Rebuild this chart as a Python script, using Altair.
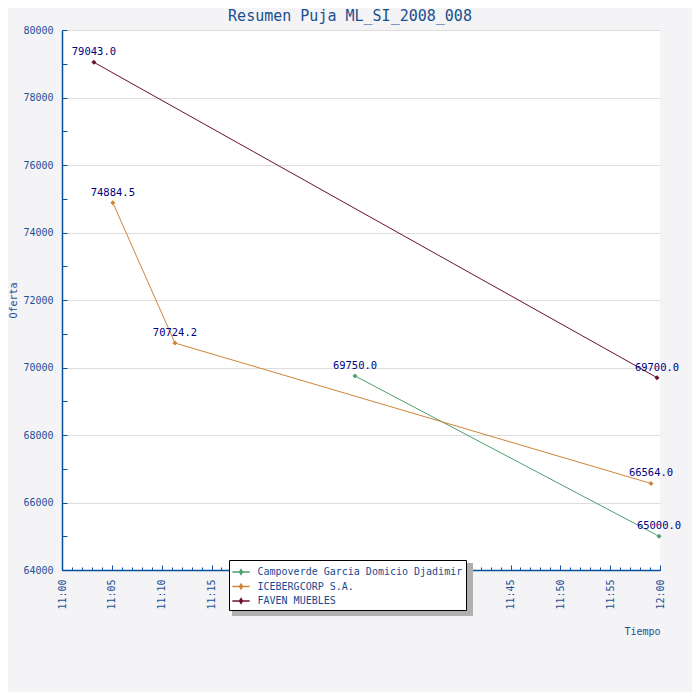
import altair as alt
import pandas as pd

# ---- data ----
series_names = ["Campoverde Garcia Domicio Djadimir", "ICEBERGCORP S.A.", "FAVEN MUEBLES"]
series_colors = ["#4c9f6e", "#d0823a", "#6b1030"]

campoverde_times = ["11:29:24", "11:59:54"]
campoverde_values = [69750.0, 65000.0]
iceberg_times = ["11:05:06", "11:11:20", "11:59:06"]
iceberg_values = [74884.5, 70724.2, 66564.0]
faven_times = ["11:03:12", "11:59:42"]
faven_values = [79043.0, 69700.0]

x_label_values = [0, 5, 10, 15, 20, 25, 30, 35, 40, 45, 50, 55, 60]
x_minor_ticks = list(range(0, 61))
y_label_values = [64000, 66000, 68000, 70000, 72000, 74000, 76000, 78000, 80000]
y_minor_ticks = list(range(64000, 80001, 1000))


def to_minutes(t):
    h, m, s = (int(p) for p in t.split(":"))
    return h * 60 + m + s / 60.0 - 11 * 60


rows = []
for name, times, vals in [
    (series_names[0], campoverde_times, campoverde_values),
    (series_names[1], iceberg_times, iceberg_values),
    (series_names[2], faven_times, faven_values),
]:
    for t, v in zip(times, vals):
        rows.append({"serie": name, "min": to_minutes(t), "oferta": v, "label": f"{v:.1f}"})
df = pd.DataFrame(rows)

FONT = "DejaVu Sans Mono"
BLUE = "#1f4f99"
W, H = 598, 540

xscale = alt.Scale(domain=[0, 60], nice=False, zero=False)
yscale = alt.Scale(domain=[64000, 80000], nice=False, zero=False)
cscale = alt.Scale(domain=series_names, range=series_colors)

base = alt.Chart(df)

x_main = alt.X(
    "min:Q", scale=xscale,
    axis=alt.Axis(
        orient="bottom", values=x_label_values,
        labelExpr="datum.value == 60 ? '12:00' : '11:' + (datum.value < 10 ? '0' : '') + datum.value",
        labelAngle=270, labelFlush=False, labelOverlap=False, ticks=False, grid=False,
        domainColor="#0a4f9c", domainWidth=1.5, labelColor=BLUE, labelFont=FONT, labelFontSize=10,
        labelPadding=9, title="Tiempo", titleFont=FONT, titleFontSize=10, titleColor=BLUE,
        titleFontWeight="normal", titleX=W, titleY=61, titleAlign="right",
        titleBaseline="middle", titleAngle=0,
    ),
)
y_main = alt.Y(
    "oferta:Q", scale=yscale,
    axis=alt.Axis(
        orient="left", values=y_label_values, format="d", labelFlush=False, labelOverlap=False,
        ticks=False, grid=True, gridColor="#dddddd", gridWidth=1,
        domainColor="#0a4f9c", domainWidth=1.5, labelColor=BLUE, labelFont=FONT, labelFontSize=10,
        labelPadding=9, title="Oferta", titleFont=FONT, titleFontSize=10, titleColor=BLUE,
        titleFontWeight="normal", titlePadding=4,
    ),
)

legend_symbol = "M-1.15,0L1.15,0M0,-0.3L0.18,0L0,0.3L-0.18,0Z"

lines = base.mark_line(strokeWidth=1).encode(
    x=x_main,
    y=y_main,
    color=alt.Color(
        "serie:N", scale=cscale,
        legend=alt.Legend(
            orient="none", legendX=167, legendY=530, title=None,
            fillColor="white", strokeColor="black", padding=3.5,
            symbolType=legend_symbol, symbolSize=225, symbolStrokeWidth=1.6,
            labelFont=FONT, labelFontSize=10, labelColor="#174a92", labelOffset=8,
            labelLimit=400, rowPadding=0.5, labelExpr="datum.label + ' '",
        ),
    ),
    detail="serie:N",
)

points = base.mark_point(shape="diamond", filled=True, size=25, opacity=1).encode(
    x=alt.X("min:Q", scale=xscale, axis=None),
    y=alt.Y("oferta:Q", scale=yscale, axis=None),
    color=alt.Color("serie:N", scale=cscale, legend=None),
)

labels = base.mark_text(dy=-10, fontSize=10.5, font=FONT, color="#000080", baseline="middle").encode(
    x=alt.X("min:Q", scale=xscale, axis=None),
    y=alt.Y("oferta:Q", scale=yscale, axis=None),
    text="label:N",
)

# inward-pointing tick marks drawn as extra axes on the same scales
ticks_minor = base.mark_point(opacity=0).encode(
    x=alt.X("min:Q", scale=xscale, axis=alt.Axis(
        orient="top", offset=-H, values=x_minor_ticks, labels=False, domain=False, grid=False,
        tickSize=3, tickColor="#0a4f9c", tickWidth=1, title=None)),
    y=alt.Y("oferta:Q", scale=yscale, axis=alt.Axis(
        orient="right", offset=-W, values=y_minor_ticks, labels=False, domain=False, grid=False,
        tickSize=5, tickColor="#0a4f9c", tickWidth=1, title=None)),
)
ticks_major = base.mark_point(opacity=0).encode(
    x=alt.X("min:Q", scale=xscale, axis=alt.Axis(
        orient="top", offset=-H, values=x_label_values, labels=False, domain=False, grid=False,
        tickSize=5, tickColor="#0a4f9c", tickWidth=1, title=None)),
    y=alt.Y("oferta:Q", scale=yscale, axis=None),
)

shadow = alt.Chart(alt.Data(values=[{}])).mark_rect(color="#b0b0b0").encode(
    x=alt.value(170), x2=alt.value(411), y=alt.value(533), y2=alt.value(586)
)

chart = alt.layer(shadow, lines, points, labels, ticks_minor, ticks_major).resolve_axis(
    x="independent", y="independent"
).properties(
    width=W, height=H,
    title=alt.TitleParams(
        "Resumen Puja ML_SI_2008_008", font=FONT, fontSize=15, fontWeight="normal",
        color="#1a4f8f", anchor="middle", dx=-11, dy=24, offset=13, baseline="alphabetic",
    ),
    padding={"left": 54, "top": 22, "right": 32, "bottom": 122},
    autosize=alt.AutoSizeParams(type="none"),
    background="#f4f4f6",
).configure_view(fill="white", stroke=None)

chart.save("out.html", embed_options={"renderer": "svg", "actions": False})
